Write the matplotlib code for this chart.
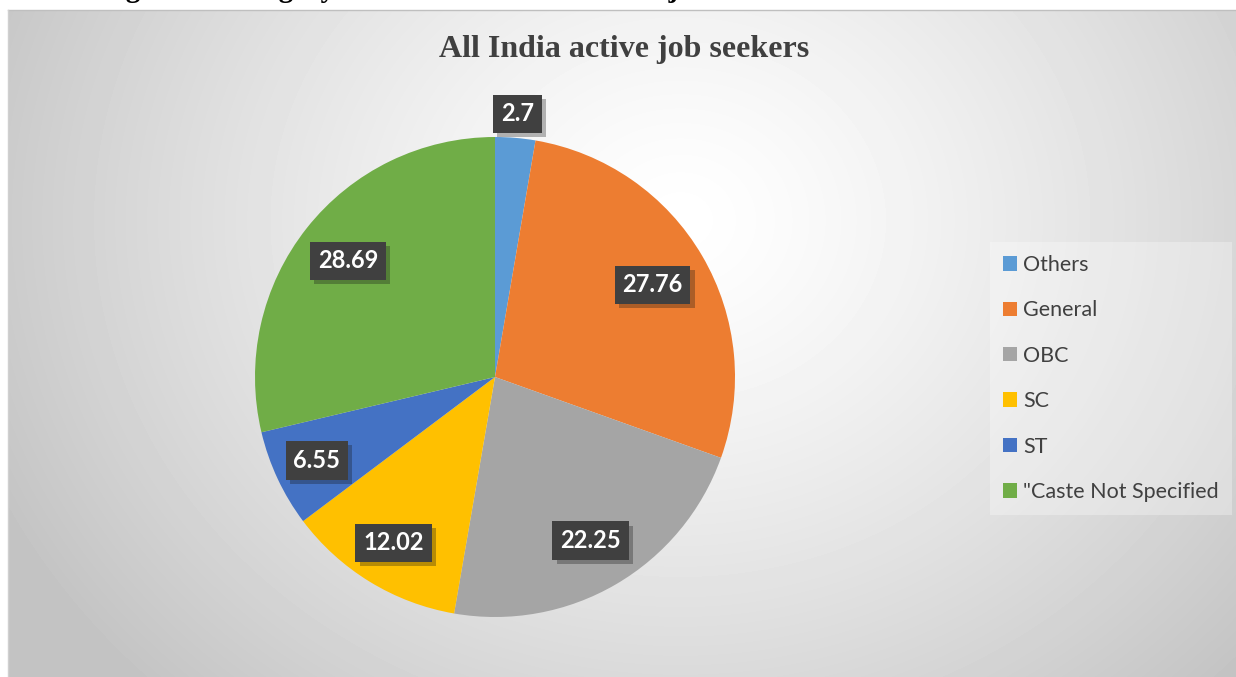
import numpy as np
import matplotlib.pyplot as plt
from matplotlib.patches import Patch
import matplotlib.patheffects as pe

categories = ['Others', 'General', 'OBC', 'SC', 'ST', '"Caste Not Specified']
shares = [2.7, 27.76, 22.25, 12.02, 6.55, 28.69]
colors = ['#5B9BD5', '#ED7D31', '#A5A5A5', '#FFC000', '#4472C4', '#70AD47']
label_dist = [1.1, 0.76, 0.79, 0.81, 0.82, 0.78]

W, H = 1236, 677
fig = plt.figure(figsize=(W / 100, H / 100), dpi=100, facecolor='white')

# radial grey background of the chart area
bg = fig.add_axes([8 / W, 0, 1 - 8 / W, 1 - 10 / H])
xx, yy = np.meshgrid(np.arange(8, W), np.arange(10, H))
d = np.sqrt((xx - 680) ** 2 + ((yy - 220) * 1.15) ** 2) / 760
v = 255 - 60 * np.clip(d, 0, 1) ** 1.3
bg.imshow(v, cmap='gray', vmin=0, vmax=255, aspect='auto', interpolation='bilinear')
bg.axis('off')
fig.add_artist(plt.Line2D([8 / W, 1], [1 - 10 / H, 1 - 10 / H], color='#bfbfbf', lw=1))
fig.add_artist(plt.Line2D([8 / W, 8 / W], [0, 1 - 10 / H], color='#d0d0d0', lw=1))

# caption cut off at the top of the picture (only descenders visible)
fig.text(100 / W, 1 + 3 / H, 'Figure 3: Category wise distribution of active job seekers',
         family='Liberation Serif', weight='bold', fontsize=21, color='black',
         va='baseline', ha='left')

fig.text(624 / W, 1 - 50 / H, 'All India active job seekers', family='Liberation Serif',
         weight='bold', fontsize=23, color='#404040', ha='center', va='center')

cx, cy, r = 495, 377, 240
ax = fig.add_axes([(cx - r) / W, (H - cy - r) / H, 2 * r / W, 2 * r / H])
wedges, _ = ax.pie(shares, colors=colors, startangle=90, counterclock=False,
                   wedgeprops=dict(linewidth=0))
ax.set_xlim(-1, 1)
ax.set_ylim(-1, 1)

for w, val, ld in zip(wedges, shares, label_dist):
    ang = np.deg2rad((w.theta1 + w.theta2) / 2)
    t = ax.text(ld * np.cos(ang), ld * np.sin(ang), f'{val:g}', ha='center', va='center',
                color='white', fontsize=17, weight='bold', family='Lato', clip_on=False,
                bbox=dict(boxstyle='square,pad=0.33', fc='#404040', ec='none'))
    t.get_bbox_patch().set_path_effects([pe.withSimplePatchShadow(offset=(3, -3), alpha=0.3),
                                         pe.Normal()])

handles = [Patch(facecolor=c, edgecolor='none') for c in colors]
leg = fig.legend(handles, categories, loc='upper left',
                 bbox_to_anchor=(990 / W, 1 - 242 / H), frameon=True, fancybox=False,
                 facecolor='white', framealpha=0.3, edgecolor='none',
                 prop=dict(family='Lato', size=15.5), labelcolor='#404040',
                 handlelength=0.65, handleheight=0.65, handletextpad=0.3,
                 labelspacing=1.18, borderpad=0.6, borderaxespad=0)

fig.savefig('out.png', dpi=100, facecolor='white')
